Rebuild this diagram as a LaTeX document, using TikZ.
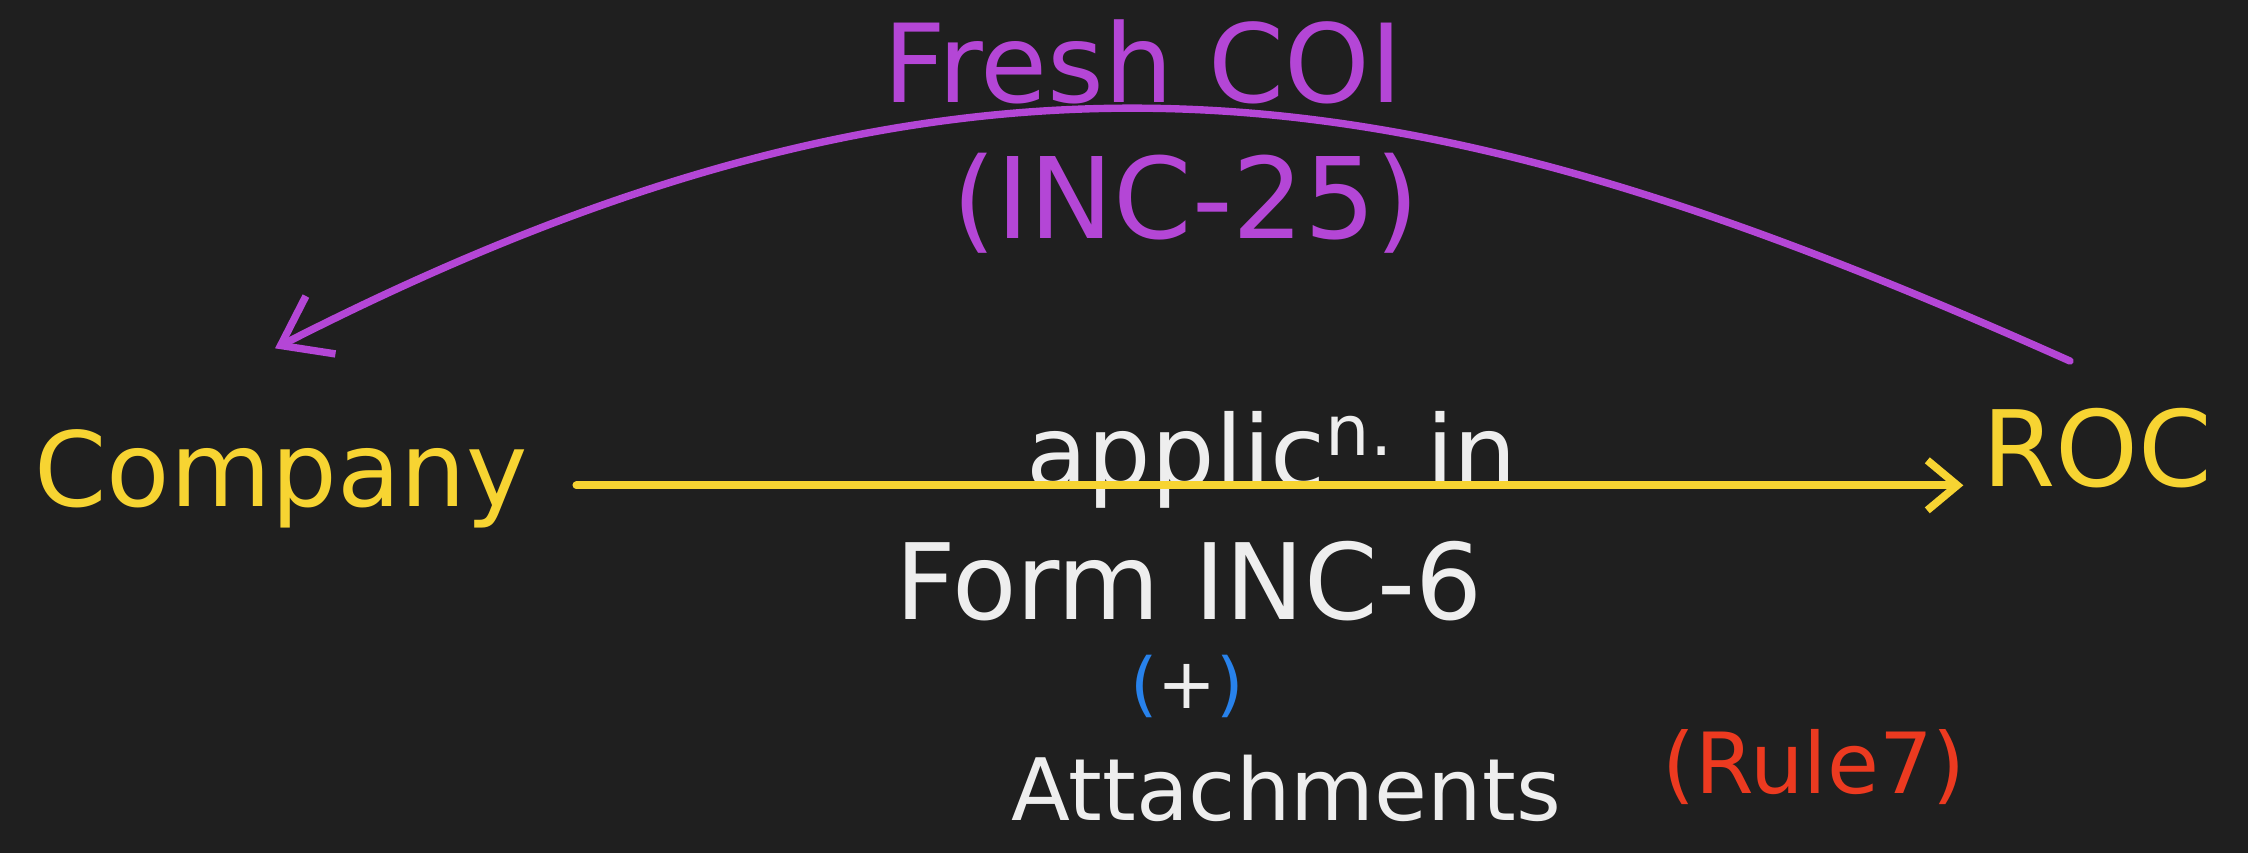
\documentclass[tikz,border=0pt]{standalone}
\usepackage{fontspec}
\setmainfont{DejaVu Sans}
\usetikzlibrary{arrows.meta}
\definecolor{boardbg}{RGB}{31,31,31}
\definecolor{penyellow}{RGB}{247,212,50}
\definecolor{penpurple}{RGB}{180,70,214}
\definecolor{penwhite}{RGB}{238,238,238}
\definecolor{penblue}{RGB}{40,130,235}
\definecolor{penred}{RGB}{236,58,32}
\tikzset{
  party/.style={
    text=penyellow, inner sep=2pt, font=\fontsize{30}{36}\selectfont
  },
  note/.style={
    text=penwhite, inner sep=2pt, font=\fontsize{29}{35}\selectfont
  },
  reply/.style={
    text=penpurple, inner sep=2pt, font=\fontsize{31}{37}\selectfont
  },
  filing/.style={-{Straight Barb[length=3mm,width=5mm]}, line width=2.2pt, line cap=round, draw=penyellow},
  issue/.style={-{Straight Barb[length=4.5mm,width=6.5mm]}, line width=2.1pt, line cap=round, line join=round, draw=penpurple}
}

\begin{document}
\begin{tikzpicture}

\fill[boardbg] (0,0) rectangle (22.48,-8.53);
\useasboundingbox (0,0) rectangle (22.48,-8.53);

\node[party, anchor=base, font=\fontsize{29.5}{35}\selectfont] (company) at (2.81,-5.06) {Company};
\node[party, anchor=base] (roc) at (20.97,-4.86) {ROC};

\node[reply, anchor=base] (coi) at (11.43,-1.02) {Fresh COI};
\node[reply, anchor=base, font=\fontsize{32}{38}\selectfont] (inc25) at (11.86,-2.38) {(INC-25)};

\node[note, anchor=base, font=\fontsize{28.5}{34}\selectfont] (applic) at (12.72,-4.87) {applic\textsuperscript{n.} in};
\node[note, anchor=base, font=\fontsize{30}{36}\selectfont] (form) at (11.89,-6.19) {Form INC-6};
\node[note, font=\fontsize{20}{24}\selectfont] (plus) at (11.87,-6.86) {\textcolor{penblue}{(}+\textcolor{penblue}{)}};
\node[note, anchor=base, font=\fontsize{24.5}{30}\selectfont] (attach) at (12.86,-8.20) {Attachments};
\node[note, text=penred, font=\fontsize{24}{29}\selectfont] (rule) at (18.14,-7.67) {(Rule7)};

\draw[filing, shorten <=0.41cm, shorten >=0.11cm] ([yshift=-0.07cm]company.east) -- ([yshift=-0.07cm]company.east -| roc.west);
\draw[issue] ([shift={(-0.27,0.39)}]roc.north) .. controls (14.30,-0.75) and (9.90,0.17) .. ([shift={(-0.06,0.73)}]company.north);

\end{tikzpicture}
\end{document}
